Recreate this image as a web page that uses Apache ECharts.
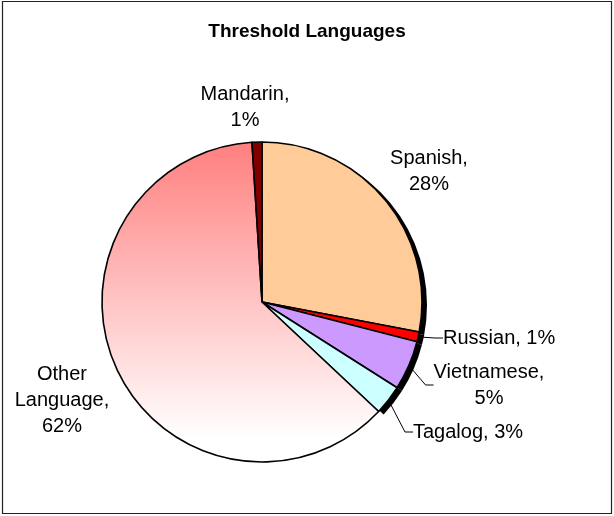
<!DOCTYPE html>
<html>
<head>
<meta charset="utf-8">
<script src="https://cdn.jsdelivr.net/npm/echarts@6/dist/echarts.min.js"></script>
<style>
  html, body { margin: 0; padding: 0; background: #fff; }
  #chart { width: 614px; height: 516px; }
</style>
</head>
<body>
<div id="chart"></div>
<script>
// Threshold languages, share of speakers (percent)
const languages = ['Spanish', 'Russian', 'Vietnamese', 'Tagalog', 'Other Language', 'Mandarin'];
const shares = [28, 1, 5, 3, 62, 1];
const labelNames = ['Spanish,\n', 'Russian,', 'Vietnamese,\n', 'Tagalog,', 'Other\nLanguage,\n', 'Mandarin,\n'];

const FONT = '"Liberation Sans", Arial, sans-serif';
const CENTER = [262, 302];
const RADIUS = 160;
const SHADOW_OFFSET = [5, 3];

const sliceColors = [
  '#FFCC99',
  '#FF0000',
  '#CC99FF',
  '#CCFFFF',
  { type: 'linear', x: 0, y: 0, x2: 0, y2: 1,
    colorStops: [{ offset: 0, color: '#FF7F7F' }, { offset: 0.92, color: '#FFFFFF' }] },
  '#800000'
];

// slices on the right side carry a hard drop shadow
const shadowed = [true, true, true, true, false, false];
const showLine = [false, true, true, true, false, false];

// label anchor placement: [x, y, align]
const labelPlace = [
  [429, 171, 'center'],
  [443, 338, 'left'],
  [489, 385, 'center'],
  [413, 432, 'left'],
  [62, 400, 'center'],
  [245, 107, 'center']
];

const data = languages.map((name, i) => ({
  name: name,
  value: shares[i],
  itemStyle: { color: sliceColors[i], borderColor: '#000', borderWidth: 1.6 },
  label: {
    formatter: labelNames[i].endsWith('\n')
      ? labelNames[i] + '{d}%'
      : labelNames[i] + ' {d}%'
  },
  labelLine: { show: showLine[i] }
}));

// same slices, offset and filled black, drawn underneath as the shadow
const shadowData = languages.map((name, i) => ({
  name: name,
  value: shares[i],
  itemStyle: { color: shadowed[i] ? '#000' : 'rgba(0,0,0,0)', borderWidth: 0 }
}));

const chart = echarts.init(document.getElementById('chart'), null, { renderer: 'canvas' });
chart.setOption({
  animation: false,
  backgroundColor: '#fff',
  title: {
    text: 'Threshold Languages',
    left: 'center',
    top: 17,
    textStyle: { fontFamily: FONT, fontSize: 19, fontWeight: 'bold', color: '#000' }
  },
  graphic: [{
    type: 'rect',
    shape: { x: 2.5, y: 1.5, width: 609, height: 512 },
    style: { fill: 'none', stroke: '#222', lineWidth: 1.2 },
    silent: true
  }],
  series: [{
    type: 'pie',
    silent: true,
    z: 1,
    center: [CENTER[0] + SHADOW_OFFSET[0], CENTER[1] + SHADOW_OFFSET[1]],
    radius: RADIUS,
    startAngle: 90,
    clockwise: true,
    emphasis: { disabled: true },
    label: { show: false },
    labelLine: { show: false },
    data: shadowData
  }, {
    type: 'pie',
    z: 2,
    center: CENTER,
    radius: RADIUS,
    startAngle: 90,
    clockwise: true,
    avoidLabelOverlap: false,
    emphasis: { disabled: true },
    data: data,
    label: {
      show: true,
      position: 'outside',
      fontFamily: FONT,
      fontSize: 20,
      lineHeight: 26,
      color: '#000',
      align: 'center'
    },
    labelLine: {
      length: 8,
      length2: 8,
      lineStyle: { color: '#000', width: 1 }
    },
    labelLayout: function (params) {
      const p = labelPlace[params.dataIndex];
      return { x: p[0], y: p[1], align: p[2], verticalAlign: 'middle', hideOverlap: false };
    }
  }]
});
</script>
</body>
</html>
